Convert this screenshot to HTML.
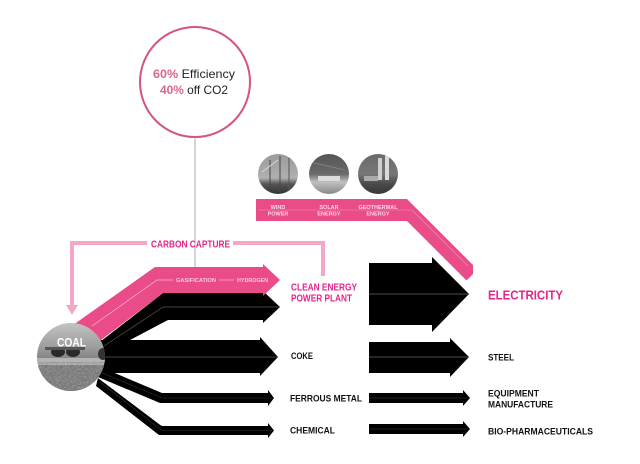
<!DOCTYPE html>
<html>
<head>
<meta charset="utf-8">
<style>
html,body{margin:0;padding:0;background:#fff;}
svg{display:block;}
text{font-family:"Liberation Sans",Arial,sans-serif;font-weight:bold;}
</style>
</head>
<body>
<svg width="640" height="464" viewBox="0 0 640 464" xmlns="http://www.w3.org/2000/svg">
<defs>
  <linearGradient id="coalTop" x1="0" y1="0" x2="0" y2="1">
    <stop offset="0" stop-color="#c4c4c4"/>
    <stop offset="0.35" stop-color="#9e9e9e"/>
    <stop offset="0.55" stop-color="#808080"/>
    <stop offset="0.62" stop-color="#b0b0b0"/>
    <stop offset="0.7" stop-color="#7a7a7a"/>
    <stop offset="1" stop-color="#5a5a5a"/>
  </linearGradient>
  <filter id="noise" x="0" y="0" width="100%" height="100%">
    <feTurbulence type="fractalNoise" baseFrequency="0.55" numOctaves="2" seed="3"/>
    <feColorMatrix type="saturate" values="0"/>
    <feComponentTransfer><feFuncA type="linear" slope="0.6"/></feComponentTransfer>
  </filter>
  <clipPath id="coalClip"><circle cx="71" cy="357" r="34"/></clipPath>
  <clipPath id="c1"><circle cx="278" cy="174" r="20"/></clipPath>
  <clipPath id="c2"><circle cx="329" cy="174" r="20"/></clipPath>
  <clipPath id="c3"><circle cx="378" cy="174" r="20"/></clipPath>
  <linearGradient id="windG" x1="0" y1="0" x2="0" y2="1">
    <stop offset="0" stop-color="#9a9a9a"/>
    <stop offset="0.6" stop-color="#b0b0b0"/>
    <stop offset="0.75" stop-color="#555"/>
    <stop offset="1" stop-color="#333"/>
  </linearGradient>
  <linearGradient id="solarG" x1="0" y1="0" x2="0" y2="1">
    <stop offset="0" stop-color="#555"/>
    <stop offset="0.5" stop-color="#6a6a6a"/>
    <stop offset="0.7" stop-color="#c0c0c0"/>
    <stop offset="1" stop-color="#888"/>
  </linearGradient>
  <linearGradient id="geoG" x1="0" y1="0" x2="0" y2="1">
    <stop offset="0" stop-color="#6a6a6a"/>
    <stop offset="0.5" stop-color="#777"/>
    <stop offset="0.75" stop-color="#4a4a4a"/>
    <stop offset="1" stop-color="#383838"/>
  </linearGradient>
</defs>

<!-- top circle -->
<circle cx="195" cy="82" r="55" fill="#fff" stroke="#d4547e" stroke-width="2"/>
<text x="153" y="78" font-size="12" textLength="82" lengthAdjust="spacingAndGlyphs"><tspan fill="#d9668c">60%</tspan><tspan fill="#222" font-weight="normal"> Efficiency</tspan></text>
<text x="160" y="94" font-size="12" textLength="68" lengthAdjust="spacingAndGlyphs"><tspan fill="#d9668c">40%</tspan><tspan fill="#222" font-weight="normal"> off CO2</tspan></text>

<!-- vertical connector line -->
<line x1="195" y1="137" x2="195" y2="283" stroke="#9a9a9a" stroke-width="0.8"/>

<!-- renewable circles -->
<g clip-path="url(#c1)">
  <rect x="258" y="154" width="40" height="40" fill="url(#windG)"/>
  <line x1="270" y1="160" x2="270" y2="192" stroke="#444" stroke-width="1"/>
  <line x1="280" y1="156" x2="280" y2="192" stroke="#444" stroke-width="1"/>
  <line x1="289" y1="158" x2="289" y2="192" stroke="#555" stroke-width="1"/>
  <line x1="262" y1="172" x2="278" y2="160" stroke="#ddd" stroke-width="0.8"/>
</g>
<g clip-path="url(#c2)">
  <rect x="309" y="154" width="40" height="40" fill="url(#solarG)"/>
  <rect x="318" y="176" width="22" height="5" fill="#ddd"/>
  <line x1="310" y1="162" x2="345" y2="170" stroke="#888" stroke-width="0.8"/>
</g>
<g clip-path="url(#c3)">
  <rect x="358" y="154" width="40" height="40" fill="url(#geoG)"/>
  <rect x="378" y="158" width="4" height="22" fill="#d0d0d0"/>
  <rect x="385" y="156" width="4" height="24" fill="#dadada"/>
  <rect x="364" y="176" width="14" height="5" fill="#aaa"/>
</g>

<!-- renewable pink band -->
<polygon points="256,199 407,199 473,265 473,274 467,280 466,280 407,221 256,221" fill="#ea4c89"/>
<line x1="258" y1="210" x2="412" y2="210" stroke="#f07aa8" stroke-width="0.8"/>
<line x1="412" y1="210" x2="468" y2="266" stroke="#f07aa8" stroke-width="1"/>
<g fill="#fcd6e5" font-size="5.5" text-anchor="middle">
  <text x="278" y="209">WIND</text>
  <text x="278" y="215.5">POWER</text>
  <text x="329" y="209">SOLAR</text>
  <text x="329" y="215.5">ENERGY</text>
  <text x="378" y="209">GEOTHERMAL</text>
  <text x="378" y="215.5">ENERGY</text>
</g>

<!-- carbon capture bracket -->
<g stroke="#f4a7c6" stroke-width="4" fill="none">
  <polyline points="147,243 72,243 72,307"/>
  <polyline points="233,243 323,243 323,276"/>
</g>
<polygon points="66,305 78,305 72,315" fill="#f4a7c6"/>
<text x="151" y="247.5" font-size="10" fill="#e2268b" textLength="79" lengthAdjust="spacingAndGlyphs">CARBON CAPTURE</text>

<!-- black bands from coal -->
<polygon points="96,345 163,293 263,293 263,291 280,307 263,323 263,320 168,320 130,340 100,360" fill="#000"/>
<polygon points="100,340 260,340 260,337 278,357 260,376 260,373 100,373" fill="#000"/>
<polygon points="98,366 162,393 268,393 268,390 274,398 268,406 268,403 160,403 98,377" fill="#000"/>
<polygon points="98,378 162,426 268,426 268,423 274,430.5 268,438 268,435 159,435 96,386" fill="#000"/>
<line x1="98" y1="377.5" x2="161" y2="425" stroke="#fff" stroke-width="0.8"/>
<!-- mid lines -->
<polyline points="104,346 163,307 279,307" fill="none" stroke="#555" stroke-width="0.7"/>
<line x1="104" y1="357" x2="277" y2="357" stroke="#555" stroke-width="0.7"/>
<polyline points="100,372 162,398 272,398" fill="none" stroke="#333" stroke-width="0.6"/>
<polyline points="100,382 162,430.5 272,430.5" fill="none" stroke="#333" stroke-width="0.6"/>

<!-- pink gasification band -->
<polygon points="73,325 155,267 263,267 263,264 280,280 263,296 263,293 163,293 97,343" fill="#ea4c89"/>
<polyline points="92,326 157,280 173,280" fill="none" stroke="#f6b6cf" stroke-width="0.7"/>
<line x1="219" y1="280" x2="234" y2="280" stroke="#f6b6cf" stroke-width="0.7"/>
<text x="176" y="282" font-size="5.5" fill="#f8c9da" textLength="40" lengthAdjust="spacingAndGlyphs">GASIFICATION</text>
<text x="237" y="282" font-size="5.5" fill="#f8c9da" textLength="31" lengthAdjust="spacingAndGlyphs">HYDROGEN</text>

<!-- coal circle -->
<g clip-path="url(#coalClip)">
  <rect x="36" y="322" width="70" height="70" fill="url(#coalTop)"/>
  <rect x="36" y="365" width="70" height="27" fill="#6a6a6a"/>
  <rect x="36" y="360" width="70" height="32" filter="url(#noise)"/>
  <rect x="36" y="358" width="70" height="4" fill="#b4b4b4"/>
  <ellipse cx="58" cy="352" rx="7" ry="5" fill="#2a2a2a"/>
  <ellipse cx="73" cy="352" rx="7" ry="5" fill="#2a2a2a"/>
  <ellipse cx="103" cy="354" rx="5" ry="6" fill="#333"/>
  <rect x="45" y="347" width="40" height="3" fill="#555"/>
</g>
<text x="57" y="346.5" font-size="12" fill="#fff" textLength="29" lengthAdjust="spacingAndGlyphs">COAL</text>

<!-- right arrows -->
<polygon points="369,263 432,263 432,257 469,294 432,332 432,325 369,325" fill="#000"/>
<line x1="369" y1="294" x2="468" y2="294" stroke="#666" stroke-width="0.8"/>
<polygon points="369,342 450,342 450,338 469,357 450,377 450,373 369,373" fill="#000"/>
<line x1="369" y1="357" x2="468" y2="357" stroke="#666" stroke-width="0.8"/>
<polygon points="369,393 463,393 463,390 470,398 463,406 463,403 369,403" fill="#000"/>
<line x1="369" y1="398" x2="468" y2="398" stroke="#444" stroke-width="0.6"/>
<polygon points="369,424 463,424 463,421 470,429 463,437 463,434 369,434" fill="#000"/>
<line x1="369" y1="429" x2="468" y2="429" stroke="#444" stroke-width="0.6"/>

<!-- labels -->
<text x="291" y="290.5" font-size="10" fill="#e2268b" textLength="66" lengthAdjust="spacingAndGlyphs">CLEAN ENERGY</text>
<text x="291" y="301.5" font-size="10" fill="#e2268b" textLength="61" lengthAdjust="spacingAndGlyphs">POWER PLANT</text>
<text x="291" y="359" font-size="9.5" fill="#111" textLength="22" lengthAdjust="spacingAndGlyphs">COKE</text>
<text x="290" y="401.5" font-size="9.5" fill="#111" textLength="72" lengthAdjust="spacingAndGlyphs">FERROUS METAL</text>
<text x="290" y="433.5" font-size="9.5" fill="#111" textLength="45" lengthAdjust="spacingAndGlyphs">CHEMICAL</text>

<text x="488" y="299.5" font-size="12.5" fill="#e2268b" textLength="75" lengthAdjust="spacingAndGlyphs">ELECTRICITY</text>
<text x="488" y="360.5" font-size="9.5" fill="#111" textLength="26" lengthAdjust="spacingAndGlyphs">STEEL</text>
<text x="488" y="396.5" font-size="9.5" fill="#111" textLength="51" lengthAdjust="spacingAndGlyphs">EQUIPMENT</text>
<text x="488" y="407.5" font-size="9.5" fill="#111" textLength="65" lengthAdjust="spacingAndGlyphs">MANUFACTURE</text>
<text x="488" y="434.5" font-size="9.5" fill="#111" textLength="105" lengthAdjust="spacingAndGlyphs">BIO-PHARMACEUTICALS</text>
</svg>
</body>
</html>
